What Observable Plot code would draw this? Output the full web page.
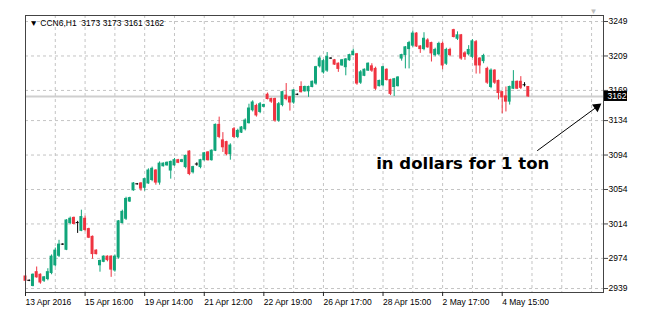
<!DOCTYPE html>
<html>
<head>
<meta charset="utf-8">
<script src="https://cdn.jsdelivr.net/npm/d3@7"></script>
<script src="https://cdn.jsdelivr.net/npm/@observablehq/plot@0.6"></script>
<style>
  html, body { margin: 0; padding: 0; background: #fff; }
  #chart svg { display: block; }
</style>
</head>
<body>
<div id="chart"></div>
<script>
// ---- data (H1 bars) ----
const symbolTitle = "CCN6,H1";
const opens  = [2953,2948,2942,2958,2955,2948,2950,2957,2966,2977,2990,2984,3015,3021,3015,3006,3020,3008,2999,2983,
                2966,2970,2976,2976,2960,2975,3015,3020,3040,3053,3060,3061,3056,3061,3065,3076,3062,3081,3082,3076,
                3082,3088,3086,3080,3098,3074,3083,3080,3088,3097,3088,3099,3129,3111,3109,3095,3124,3115,3120,3124,
                3131,3146,3151,3144,3150,3164,3159,3159,3134,3152,3163,3161,3155,3164,3173,3168,3168,3173,3177,3197,
                3190,3192,3206,3204,3200,3198,3196,3204,3210,3211,3178,3186,3192,3197,3194,3174,3175,3193,3181,3173,
                3174,3206,3210,3217,3221,3235,3220,3217,3227,3224,3210,3211,3223,3200,3216,3239,3229,3233,3212,3211,
                3208,3225,3206,3203,3194,3173,3192,3180,3167,3162,3156,3171,3179,3179,3175,3173];
const highs  = [2955,2949,2956,2964,2956,2953,2962,2978,2986,2995,2991,3019,3022,3022,3017,3030,3023,3009,3000,2984,
                2972,2977,2977,2977,2978,3018,3030,3045,3045,3062,3061,3062,3067,3078,3080,3077,3086,3085,3086,3087,
                3090,3089,3089,3094,3099,3081,3085,3089,3097,3098,3100,3130,3138,3120,3110,3107,3126,3124,3127,3136,
                3153,3157,3153,3155,3153,3166,3160,3160,3155,3168,3177,3162,3170,3165,3179,3174,3174,3180,3197,3208,
                3205,3213,3207,3205,3201,3205,3206,3211,3217,3212,3192,3194,3201,3200,3196,3181,3197,3194,3182,3183,
                3185,3211,3220,3226,3238,3236,3221,3236,3229,3225,3218,3225,3225,3218,3218,3240,3237,3234,3214,3221,
                3228,3227,3207,3211,3196,3194,3193,3181,3168,3173,3174,3192,3180,3185,3178,3173];
const lows   = [2946,2947,2941,2951,2944,2946,2948,2955,2964,2975,2989,2983,3013,3013,3003,3005,3005,2997,2973,2978,
                2958,2969,2970,2952,2958,2973,3014,3018,3039,3052,3059,3052,3052,3060,3063,3059,3059,3080,3081,3066,
                3081,3084,3085,3078,3070,3072,3081,3078,3087,3087,3087,3098,3113,3097,3093,3088,3113,3113,3119,3122,
                3130,3144,3138,3142,3149,3158,3154,3132,3132,3150,3157,3145,3153,3163,3166,3167,3161,3172,3175,3195,
                3188,3190,3205,3198,3190,3197,3186,3203,3209,3175,3176,3185,3191,3190,3169,3173,3173,3180,3163,3162,
                3173,3203,3194,3194,3219,3219,3212,3215,3218,3202,3208,3209,3193,3198,3208,3230,3227,3204,3204,3209,
                3206,3188,3188,3200,3176,3171,3176,3158,3142,3144,3152,3170,3170,3170,3173,3161];
const closes = [2948,2948,2955,2952,2946,2952,2958,2976,2983,2990,2990,3018,3020,3014,3015,3022,3007,2998,2979,2979,
                2971,2976,2972,2961,2976,3017,3028,3043,3044,3061,3060,3055,3066,3076,3078,3062,3084,3084,3085,3086,
                3088,3085,3088,3093,3072,3080,3083,3088,3096,3088,3099,3129,3115,3103,3095,3105,3115,3122,3126,3134,
                3148,3155,3140,3153,3152,3159,3156,3134,3153,3167,3159,3155,3169,3164,3167,3173,3173,3179,3196,3206,
                3203,3208,3206,3199,3194,3204,3205,3210,3214,3177,3190,3193,3200,3192,3171,3180,3196,3181,3165,3182,
                3184,3210,3219,3224,3235,3220,3217,3229,3219,3212,3216,3223,3198,3216,3210,3231,3233,3206,3208,3216,
                3226,3198,3198,3209,3178,3192,3178,3166,3161,3156,3173,3179,3171,3172,3175,3162];

const xTickIndex  = [0, 16, 32, 48, 64, 80, 96, 112, 128];
const xTickLabels = ["13 Apr 2016", "15 Apr 16:00", "19 Apr 14:00", "21 Apr 12:00", "22 Apr 19:00",
                     "26 Apr 17:00", "28 Apr 15:00", "2 May 17:00", "4 May 15:00"];
const yTicks = [2939, 2974, 3014, 3054, 3094, 3134, 3169, 3209, 3249];
const noteText = "in dollars for 1 ton";

// ---- derived table ----
const bars = opens.map((o, i) => ({i, o, h: highs[i], l: lows[i], c: closes[i]}));
const last = bars[bars.length - 1];
const lastClose = last.c;
const titleStr = "\u25BC " + symbolTitle + "\u00A0\u00A0" + [last.o, last.h, last.l, last.c].join(" ");
const labelOf = new Map(xTickIndex.map((d, k) => [d, xTickLabels[k]]));

const GREEN = "#10a57a", RED = "#ef3340";
const colorOf = d => d.c > d.o ? GREEN : d.c < d.o ? RED : "#000";

// annotation placement (data units: bar index, price)
const note  = {x: 117.4, y: 3083.5};
const arrow = {x1: 137.4, y1: 3099, x2: 153.45, y2: 3150};

const xMax = 155.2;
const gridX = d3.range(8, xMax, 8);

const chart = Plot.plot({
  width: 650,
  height: 325,
  marginLeft: 25,
  marginRight: 47,
  marginTop: 15,
  marginBottom: 33,
  x: {domain: [0, xMax]},
  y: {domain: [2934.4, 3256]},
  style: {fontFamily: "'Liberation Sans', Arial, sans-serif", fontSize: "8.5px", background: "#fff", color: "#000"},
  marks: [
    Plot.ruleY(yTicks, {stroke: "#c4c4c4", strokeDasharray: "3,3"}),
    Plot.ruleX(gridX, {stroke: "#c4c4c4", strokeDasharray: "3,3"}),
    Plot.ruleY([lastClose], {stroke: "#cfcfcf", strokeWidth: 2}),
    Plot.ruleX(bars, {x: "i", y1: "l", y2: "h", stroke: colorOf, strokeWidth: 1}),
    Plot.rect(bars, {x1: d => d.i - 0.4, x2: d => d.i + 0.4, y1: "o", y2: "c", fill: colorOf,
                     insetTop: -0.5, insetBottom: -0.5}),
    Plot.frame({stroke: "#444"}),
    Plot.axisY(yTicks, {anchor: "right", tickSize: 4, tickPadding: 1, tickFormat: d => String(d), stroke: "#444"}),
    Plot.axisX(xTickIndex, {anchor: "bottom", tickSize: 4, tickPadding: 2, textAnchor: "start",
                            tickFormat: d => labelOf.get(d), stroke: "#222"}),
    Plot.rect([lastClose], {y1: d => d, y2: d => d, fill: "#000",
                            insetLeft: 579, insetRight: -24, insetTop: -5, insetBottom: -5}),
    Plot.text([lastClose], {y: d => d, frameAnchor: "right", dx: 4, textAnchor: "start",
                            fill: "#fff", text: d => String(d)}),
    Plot.text([titleStr], {frameAnchor: "top-left", dx: 4, dy: 4, lineAnchor: "top", textAnchor: "start",
                           fill: "#000", text: d => d}),
    Plot.text(["\u25BC"], {frameAnchor: "top-right", dx: -6, dy: -7, fill: "#bdbdbd", fontSize: 8, text: d => d}),
    Plot.text([note], {x: "x", y: "y", text: () => noteText, fontSize: 16.5, fontWeight: "bold",
                       fontFamily: "'Comic Sans MS', 'DejaVu Sans', sans-serif", fill: "#000"}),
    Plot.link([arrow], {x1: "x1", y1: "y1", x2: "x2", y2: "y2", stroke: "#000", strokeWidth: 1}),
    Plot.dot([arrow], {x: "x2", y: "y2", symbol: "triangle2", r: 4.5, rotate: 53.7, fill: "#000", stroke: "none"})
  ]
});
document.getElementById("chart").append(chart);
</script>
</body>
</html>
